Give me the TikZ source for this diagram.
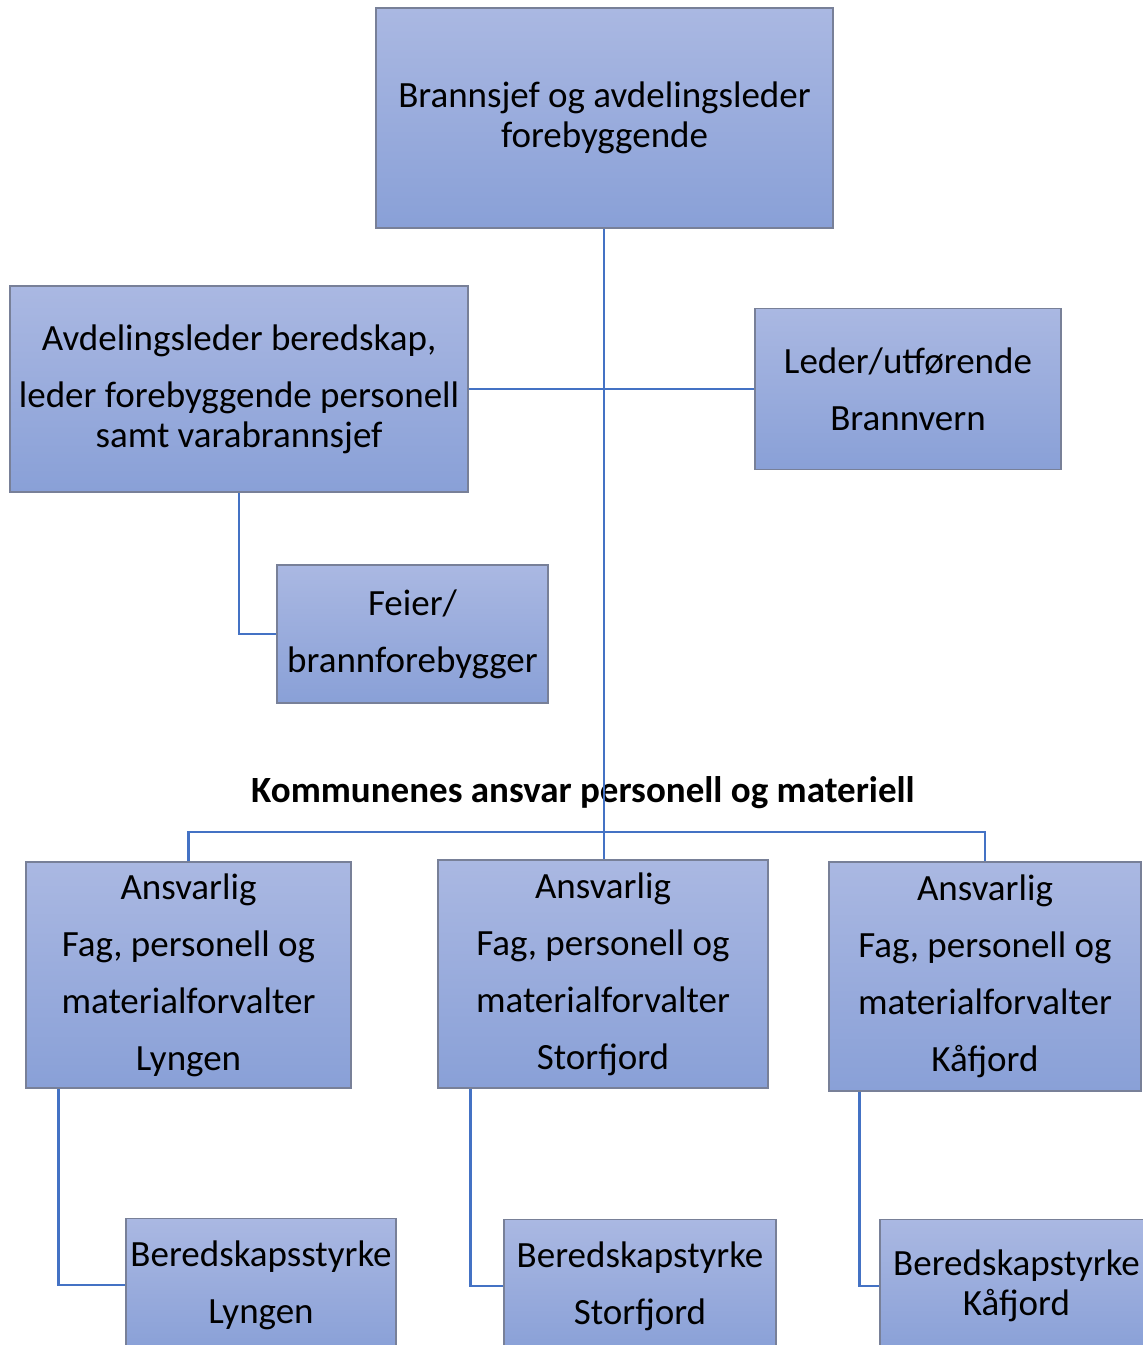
\documentclass[tikz,border=0pt]{standalone}
\usepackage{fontspec}
\setmainfont{Carlito}
\usepackage{tikz}
\usetikzlibrary{calc}
\definecolor{BoxTop}{RGB}{170,184,226}
\definecolor{BoxBot}{RGB}{137,160,215}
\definecolor{BoxRand}{RGB}{120,128,152}
\definecolor{Linje}{RGB}{68,114,196}

\begin{document}
\begin{tikzpicture}[x=1pt, y=-1pt,
		Boks/.style={draw=BoxRand, line width=1.5pt, top color=BoxTop, bottom color=BoxBot, align=center, inner sep=0pt, font=\fontsize{37}{40}\selectfont},
		Vid/.style={font=\fontsize{37}{57}\selectfont},
		Strek/.style={draw=Linje, line width=2.8pt}]
				\useasboundingbox (0,0) rectangle (1143,1345);
				\clip (0,0) rectangle (1143,1345);
				% nivaa 1
				\node[Boks, minimum width=457, minimum height=220] (sjef) at (604.5,118) {Brannsjef og avdelingsleder\\forebyggende};
				% nivaa 2
				\node[Boks, minimum width=458, minimum height=206] (avd) at (239,389) {Avdelingsleder beredskap,\\[17pt]leder forebyggende personell\\samt varabrannsjef};
				\node[Boks, Vid, minimum width=306, minimum height=161] (vern) at (908,389) {Leder/utførende\\Brannvern};
				\node[Boks, Vid, minimum width=271, minimum height=138] (feier) at (412.5,634) {Feier/\\brannforebygger};
				% kommunene
				\node[font=\fontsize{37}{40}\selectfont\bfseries] (tittel) at (583,793) {Kommunenes ansvar personell og materiell};
				\node[Boks, Vid, minimum width=325, minimum height=226] (a1) at (188.5,975) {Ansvarlig\\Fag, personell og\\materialforvalter\\Lyngen};
				\node[Boks, Vid, minimum width=330, minimum height=228] (a2) at (603,974) {Ansvarlig\\Fag, personell og\\materialforvalter\\Storfjord};
				\node[Boks, Vid, minimum width=312, minimum height=229] (a3) at (985,976.5) {Ansvarlig\\Fag, personell og\\materialforvalter\\Kåfjord};
				\node[Boks, Vid, minimum width=270, minimum height=133] (b1) at (261,1285) {Beredskapsstyrke\\Lyngen};
				\node[Boks, Vid, minimum width=272, minimum height=133] (b2) at (640,1286) {Beredskapstyrke\\Storfjord};
				\node[Boks, minimum width=273, minimum height=133] (b3) at (1016.5,1286) {Beredskapstyrke\\Kåfjord};
				% linjer
				\coordinate (skinne) at (604,832);
				\draw[Strek] (sjef.south -| skinne) -- (skinne |- a2.north);
				\draw[Strek] (avd.east) -- (vern.west);
				\draw[Strek] (avd.south) |- (feier.west);
				\draw[Strek] (a1.north) |- (skinne) -| (a3.north);
				\draw[Strek] ($(a1.south west)+(33,0)$) |- (b1.west);
				\draw[Strek] ($(a2.south west)+(33,0)$) |- (b2.west);
				\draw[Strek] ($(a3.south west)+(31,0)$) |- (b3.west);
			\end{tikzpicture}
\end{document}
